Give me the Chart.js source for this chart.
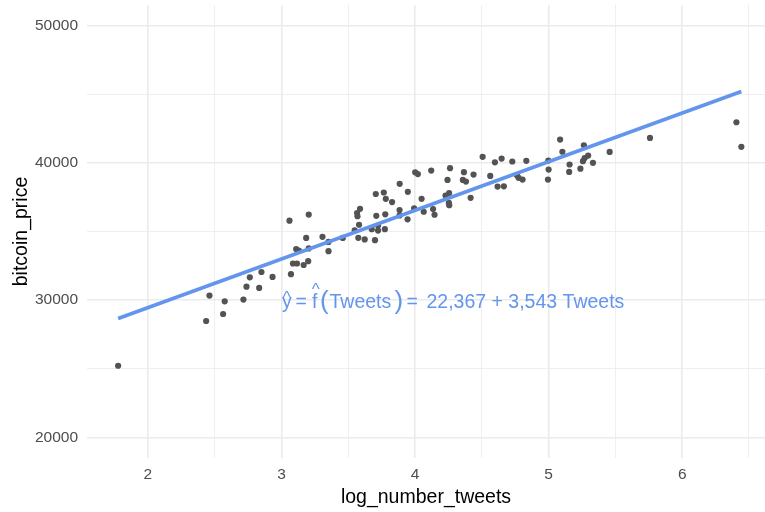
<!DOCTYPE html>
<html lang="en">
<head>
  <meta charset="UTF-8">
  <title>bitcoin_price vs log_number_tweets</title>
  <script src="https://cdn.jsdelivr.net/npm/chart.js"></script>
  <style>
    html, body {
      margin: 0;
      padding: 0;
      background: #ffffff;
      overflow: hidden;
    }
    #chart {
      display: block;
    }
  </style>
</head>
<body>
  <canvas id="chart" width="765" height="512"></canvas>

  <script>
    var logTweets = [
      1.777, 2.461, 2.436, 2.575, 2.563, 2.715, 2.738, 2.763, 2.833, 2.850,
      2.933, 3.071, 3.060, 3.204, 3.185, 3.307, 3.352, 3.352, 3.110, 3.130,
      3.204, 3.086, 3.116, 3.166, 3.200, 3.459, 3.548, 3.575, 3.623, 3.700,
      3.676, 3.723, 3.723, 3.774, 3.581, 3.569, 3.566, 3.588, 3.710, 3.777,
      3.706, 3.766, 3.781, 3.828, 3.884, 3.884, 3.885, 3.946, 3.944, 3.993,
      4.049, 4.065, 4.135, 4.146, 4.001, 4.021, 4.121, 4.243, 4.262, 4.228,
      4.255, 4.253, 4.256, 4.366, 4.358, 4.381, 4.438, 4.416, 4.506, 4.563,
      4.598, 4.648, 4.618, 4.665, 4.728, 4.763, 4.775, 4.805, 4.833, 4.998,
      5.000, 4.995, 5.086, 5.103, 5.157, 5.154, 5.238, 5.257, 5.270, 5.296,
      5.332, 5.264, 5.457, 5.759, 6.406, 6.443
    ];
    var bitcoinPrice = [
      25220, 30330, 28480, 29910, 28990, 30040, 30980, 31660, 30890, 32050,
      31690, 31890, 35790, 36230, 34530, 34610, 34240, 33570, 33720, 33610,
      33770, 32670, 32670, 32560, 32840, 34530, 35080, 34540, 34420, 34370,
      35170, 35430, 35070, 35170, 35490, 36110, 36340, 36650, 36140, 36250,
      37730, 37840, 37380, 37140, 36560, 36170, 38470, 37890, 35890, 36690,
      37380, 36440, 36630, 36220, 39310, 39180, 39440, 38760, 39610, 37620,
      37800, 37080, 36920, 39320, 38760, 38640, 39150, 37450, 40440, 39050,
      40040, 40310, 38270, 38290, 40100, 39100, 38910, 38780, 40150, 40170,
      39510, 38780, 41700, 40810, 39880, 39340, 39580, 40120, 40350, 40530,
      40000, 41280, 40800, 41820, 42960, 41170
    ];

    // fitted line, its two ends
    var fitX = [1.777, 6.443];
    var fitY = [28663, 45195];

    // breaks (labelled) and minor grid lines
    var xBreaks = [2, 3, 4, 5, 6];
    var xMinor = [2.5, 3.5, 4.5, 5.5, 6.5];
    var yBreaks = [20000, 30000, 40000, 50000];
    var yMinor = [25000, 35000, 45000];

    var fitLabel = '22,367 + 3,543 Tweets';
    var blue = '#6495ED';
    var fontFamily = '"Liberation Sans", Arial, Helvetica, sans-serif';

    function toPoints(xs, ys) {
      return xs.map(function(x, i) { return { x: x, y: ys[i] }; });
    }

    function isMajor(list, v) {
      return list.some(function(t) { return Math.abs(t - v) < 1e-6; });
    }

    function setTicks(major, minor) {
      return function(scale) {
        scale.ticks = major.concat(minor)
          .sort(function(a, b) { return a - b; })
          .map(function(v) { return { value: v }; });
      };
    }

    function noPadding(scale) {
      scale.paddingTop = 0;
      scale.paddingBottom = 0;
      scale.paddingLeft = 0;
      scale.paddingRight = 0;
    }

    // the formula text, drawn in pieces so the spacing looks like plotmath
    var formulaPlugin = {
      id: 'formula',
      afterDatasetsDraw: function(chart) {
        var ctx = chart.ctx;
        var x0 = chart.scales.x.getPixelForValue(3);
        var base = chart.scales.y.getPixelForValue(30000) + 8.3;
        var pieces = [
          { t: 'y', dx: 0.5, size: 19.5, dy: 0 },
          { t: '^', dx: 5.2, size: 17, dy: -5.4, center: true },
          { t: '=', dx: 14, size: 19.5, dy: 0 },
          { t: 'f', dx: 30.5, size: 19.5, dy: 0 },
          { t: '^', dx: 34.2, size: 17, dy: -13.6, center: true },
          { t: '(', dx: 38.5, size: 26, dy: 0.5 },
          { t: 'Tweets', dx: 48, size: 19.5, dy: 0 },
          { t: ')', dx: 113, size: 26, dy: 0.5 },
          { t: '=', dx: 125, size: 19.5, dy: 0 },
          { t: fitLabel, dx: 145, size: 19.5, dy: 0 }
        ];
        ctx.save();
        ctx.fillStyle = blue;
        ctx.textBaseline = 'alphabetic';
        pieces.forEach(function(p) {
          ctx.font = p.size + 'px ' + fontFamily;
          ctx.textAlign = p.center ? 'center' : 'left';
          ctx.fillText(p.t, x0 + p.dx, base + p.dy);
        });
        ctx.restore();
      }
    };

    var bgPlugin = {
      id: 'bg',
      beforeDraw: function(chart) {
        var ctx = chart.ctx;
        ctx.save();
        ctx.fillStyle = '#ffffff';
        ctx.fillRect(0, 0, chart.width, chart.height);
        ctx.restore();
      }
    };

    var ctx = document.getElementById('chart').getContext('2d');
    var chart = new Chart(ctx, {
      type: 'scatter',
      data: {
        datasets: [
          {
            type: 'line',
            data: toPoints(fitX, fitY),
            borderColor: blue,
            borderWidth: 3.6,
            pointRadius: 0,
            fill: false,
            order: 0
          },
          {
            data: toPoints(logTweets, bitcoinPrice),
            backgroundColor: '#535353',
            borderWidth: 0,
            pointRadius: 3.1,
            order: 1
          }
        ]
      },
      options: {
        responsive: false,
        animation: false,
        devicePixelRatio: 1,
        layout: {
          autoPadding: false,
          padding: { top: 5, right: 0, bottom: 0, left: 0 }
        },
        plugins: {
          legend: { display: false },
          tooltip: { enabled: false }
        },
        scales: {
          x: {
            type: 'linear',
            min: 1.544,
            max: 6.62,
            afterBuildTicks: setTicks(xBreaks, xMinor),
            afterFit: function(scale) { scale.height = 54; noPadding(scale); },
            border: { display: false },
            grid: {
              drawTicks: false,
              color: '#EBEBEB',
              lineWidth: function(c) {
                return isMajor(xBreaks, c.tick.value) ? 1.6 : 0.8;
              }
            },
            ticks: {
              autoSkip: false,
              maxRotation: 0,
              padding: 7,
              color: '#4D4D4D',
              font: { family: fontFamily, size: 15.5 },
              callback: function(v) {
                return isMajor(xBreaks, v) ? String(v) : '';
              }
            },
            title: {
              display: true,
              text: 'log_number_tweets',
              color: '#000000',
              font: { family: fontFamily, size: 19.5 },
              padding: { top: 0, bottom: 3 }
            }
          },
          y: {
            type: 'linear',
            min: 18500,
            max: 51500,
            afterBuildTicks: setTicks(yBreaks, yMinor),
            afterFit: function(scale) { scale.width = 87; noPadding(scale); },
            border: { display: false },
            grid: {
              drawTicks: false,
              color: '#EBEBEB',
              lineWidth: function(c) {
                return isMajor(yBreaks, c.tick.value) ? 1.6 : 0.8;
              }
            },
            ticks: {
              autoSkip: false,
              padding: 9,
              color: '#4D4D4D',
              font: { family: fontFamily, size: 15.5 },
              callback: function(v) {
                return isMajor(yBreaks, v) ? String(v) : '';
              }
            },
            title: {
              display: true,
              text: 'bitcoin_price',
              color: '#000000',
              font: { family: fontFamily, size: 19.5 },
              padding: { top: 10, bottom: 0 }
            }
          }
        }
      },
      plugins: [bgPlugin, formulaPlugin]
    });
  </script>
</body>
</html>
